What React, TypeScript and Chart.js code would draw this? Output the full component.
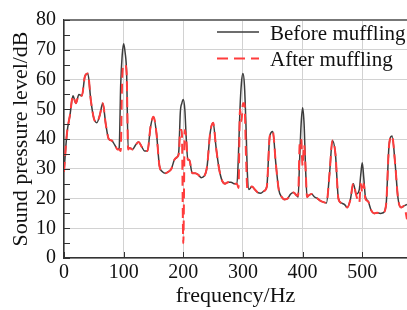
import React, { useEffect, useRef } from "react";
import { Chart, registerables } from "chart.js";

Chart.register(...registerables);

// Frequency (Hz)
const freq = [
  0, 5, 10, 15, 20, 25, 30, 35, 40, 45, 50, 55, 60, 65, 70, 75, 80, 85, 90, 92.5, 95, 97.5, 100, 102.5, 105, 107.5, 110,
  115, 120, 125, 130, 135, 140, 145, 150, 155, 160, 165, 170, 175, 180, 185, 190, 192.5, 195, 197.5, 200, 202.5, 205, 207.5, 210,
  215, 220, 225, 230, 235, 240, 245, 250, 255, 260, 265, 270, 275, 280, 285, 290, 292.5, 295, 297.5, 300, 302.5, 305, 307.5, 310,
  315, 320, 325, 330, 335, 340, 345, 350, 355, 360, 365, 370, 375, 380, 385, 390, 392.5, 395, 397.5, 400, 402.5, 405, 407.5, 410,
  415, 420, 425, 430, 435, 440, 445, 450, 455, 460, 465, 470, 475, 480, 485, 490, 495, 497.5, 500, 502.5, 505,
  510, 515, 520, 525, 530, 535, 540, 545, 550, 555, 560, 565, 570, 575,
];

// Sound pressure level before muffling (dB)
const before = [
  29, 42, 48, 54.5, 52, 55, 54.5, 61, 62, 53, 47, 45.5, 48, 52, 45, 40, 39.5, 38, 36.5, 37, 58, 68, 72, 69, 62, 37, 37,
  36.5, 38, 39, 37.5, 36, 36, 44, 47.5, 42, 31, 29, 28.5, 29, 30, 33, 34, 36, 49, 52, 53.3, 50, 40, 33, 33,
  28.5, 28.5, 28, 27, 27.5, 31, 42, 45.5, 37, 30, 26, 25, 25.5, 25.5, 25, 25, 35, 50, 59, 62, 58, 45, 28, 23,
  24, 23, 22, 21.8, 22.5, 24, 41, 42.5, 32, 23, 20.5, 19.7, 20, 21.5, 22, 21, 20.5, 33, 45, 50.5, 45, 30, 20.5, 21,
  21.5, 20.5, 20, 19.2, 18.8, 18.5, 28, 39.5, 35, 20, 18.5, 18, 17, 19.6, 25, 21.5, 23, 28, 32, 27, 21,
  19, 16, 15, 15.2, 15, 15.2, 18, 38, 41, 32, 20, 17, 17.5, 18,
];

// Sound pressure level after muffling (dB)
const after = [
  29, 42, 48, 54.5, 52, 55, 54.5, 61, 62, 53, 47, 45.5, 48, 52, 45, 40, 39.5, 38, 36.5, 36.5, 36, 60, 65, 65, 62, 36.5, 37,
  36.5, 38, 39, 37.5, 36, 36, 44, 47.5, 42, 31, 29, 28.5, 29, 30, 33, 34, 35, 43, 43, 5, 43, 40, 33, 33,
  28.5, 28.5, 28, 27, 27.5, 31, 42, 45.5, 37, 30, 26, 25, 25.5, 25.5, 25, 25, 23.5, 50, 46, 52, 52, 35, 23, 23,
  24, 23, 22, 21.8, 22.5, 24, 41, 42.5, 32, 23, 20.5, 19.7, 20, 21.5, 22, 21, 21, 38, 40, 31, 38, 30, 20.5, 21,
  21.5, 20.5, 20, 19.2, 18.8, 18.5, 28, 39.5, 35, 20, 18.5, 18, 17, 19.6, 25, 21, 18.5, 25, 22, 25, 20,
  19, 16, 15, 15.2, 15, 15.2, 18, 38, 41, 32, 20, 17, 17.5, 13,
];

const xTickValues = [0, 100, 200, 300, 400, 500];
const yTickValues = [0, 10, 20, 30, 40, 50, 60, 70, 80];
const seriesNames = ["Before muffling", "After muffling"];
const xTitle = "frequency/Hz";
const yTitle = "Sound pressure level/dB";

const FONT = '"Liberation Serif", "Times New Roman", serif';
const BLACK = "#3c3c3c";
const RED = "#ff3c3c";

export default function App() {
  const ref = useRef<HTMLCanvasElement | null>(null);

  useEffect(() => {
    if (!ref.current) return;

    const decor = {
      id: "decor",
      afterDraw(chart: any) {
        const { ctx, chartArea, scales } = chart;
        const xs = scales.x;
        const ys = scales.y;
        ctx.save();
        ctx.strokeStyle = "#333";
        ctx.lineWidth = 1;
        // inward y ticks (major + minor)
        for (let i = 0; i < yTickValues.length; i++) {
          const vals = [yTickValues[i]];
          if (i < yTickValues.length - 1) vals.push((yTickValues[i] + yTickValues[i + 1]) / 2);
          for (const v of vals) {
            const py = Math.round(ys.getPixelForValue(v)) + 0.5;
            ctx.beginPath();
            ctx.moveTo(chartArea.left, py);
            ctx.lineTo(chartArea.left + 6, py);
            ctx.stroke();
          }
        }
        // inward x ticks
        for (const v of xTickValues) {
          const px = Math.round(xs.getPixelForValue(v)) + 0.5;
          ctx.beginPath();
          ctx.moveTo(px, chartArea.bottom);
          ctx.lineTo(px, chartArea.bottom - 6);
          ctx.stroke();
        }
        // legend
        const lx0 = chartArea.right - 190;
        const lx1 = chartArea.right - 148;
        const tx = chartArea.right - 137;
        const rows = [
          { name: seriesNames[0], color: BLACK, width: 1.5, dash: [] as number[], ly: 32, ty: 40 },
          { name: seriesNames[1], color: RED, width: 2, dash: [11, 6], ly: 58.5, ty: 66 },
        ];
        ctx.font = `21px ${FONT}`;
        ctx.textAlign = "left";
        ctx.textBaseline = "alphabetic";
        for (const r of rows) {
          ctx.strokeStyle = r.color;
          ctx.lineWidth = r.width;
          ctx.setLineDash(r.dash);
          ctx.beginPath();
          ctx.moveTo(lx0, r.ly);
          ctx.lineTo(lx1, r.ly);
          ctx.stroke();
          ctx.setLineDash([]);
          ctx.fillStyle = "#111";
          ctx.fillText(r.name, tx, r.ty);
        }
        ctx.restore();
      },
    };

    const chart = new Chart(ref.current, {
      type: "line",
      data: {
        datasets: [
          {
            label: seriesNames[1],
            data: freq.map((f, i) => ({ x: f, y: after[i] })),
            borderColor: RED,
            borderWidth: 2,
            borderDash: [10, 6],
            pointRadius: 0,
            cubicInterpolationMode: "monotone",
            order: 1,
          },
          {
            label: seriesNames[0],
            data: freq.map((f, i) => ({ x: f, y: before[i] })),
            borderColor: BLACK,
            borderWidth: 1.5,
            pointRadius: 0,
            cubicInterpolationMode: "monotone",
            order: 2,
          },
        ],
      },
      options: {
        animation: false,
        responsive: true,
        maintainAspectRatio: false,
        layout: { padding: { top: 15, right: 0, left: 0, bottom: 0 } },
        plugins: { legend: { display: false }, tooltip: { enabled: false } },
        scales: {
          x: {
            type: "linear",
            min: 0,
            max: 575,
            afterBuildTicks: (axis: any) => {
              axis.ticks = xTickValues.map((v) => ({ value: v }));
            },
            afterFit: (scale: any) => {
              scale.height = 52;
            },
            ticks: {
              font: { family: FONT, size: 20 },
              color: "#111",
              padding: 3,
              maxRotation: 0,
            },
            grid: { color: "#d2d2d2", lineWidth: 1, drawTicks: false },
            border: { display: true, color: "#333", width: 1.5 },
            title: {
              display: true,
              text: xTitle,
              font: { family: FONT, size: 22 },
              color: "#111",
              padding: { top: 0, bottom: 1 },
            },
          },
          y: {
            min: 0,
            max: 80,
            afterBuildTicks: (axis: any) => {
              axis.ticks = yTickValues.map((v) => ({ value: v }));
            },
            afterFit: (scale: any) => {
              scale.width = 64;
            },
            ticks: {
              font: { family: FONT, size: 20 },
              color: "#111",
              padding: 8,
            },
            grid: {
              color: (c: any) => (c.tick && c.tick.value === 80 ? "#777" : "#d2d2d2"),
              lineWidth: (c: any) => (c.tick && c.tick.value === 80 ? 2 : 1),
              drawTicks: false,
            },
            border: { display: true, color: "#333", width: 1.5 },
            title: {
              display: true,
              text: yTitle,
              font: { family: FONT, size: 22 },
              color: "#111",
              padding: { top: 8, bottom: 0 },
            },
          },
        },
      },
      plugins: [decor],
    });

    return () => chart.destroy();
  }, []);

  return (
    <div style={{ position: "fixed", left: 0, top: 0, width: 407, height: 310, background: "#fff" }}>
      <canvas ref={ref} />
    </div>
  );
}
